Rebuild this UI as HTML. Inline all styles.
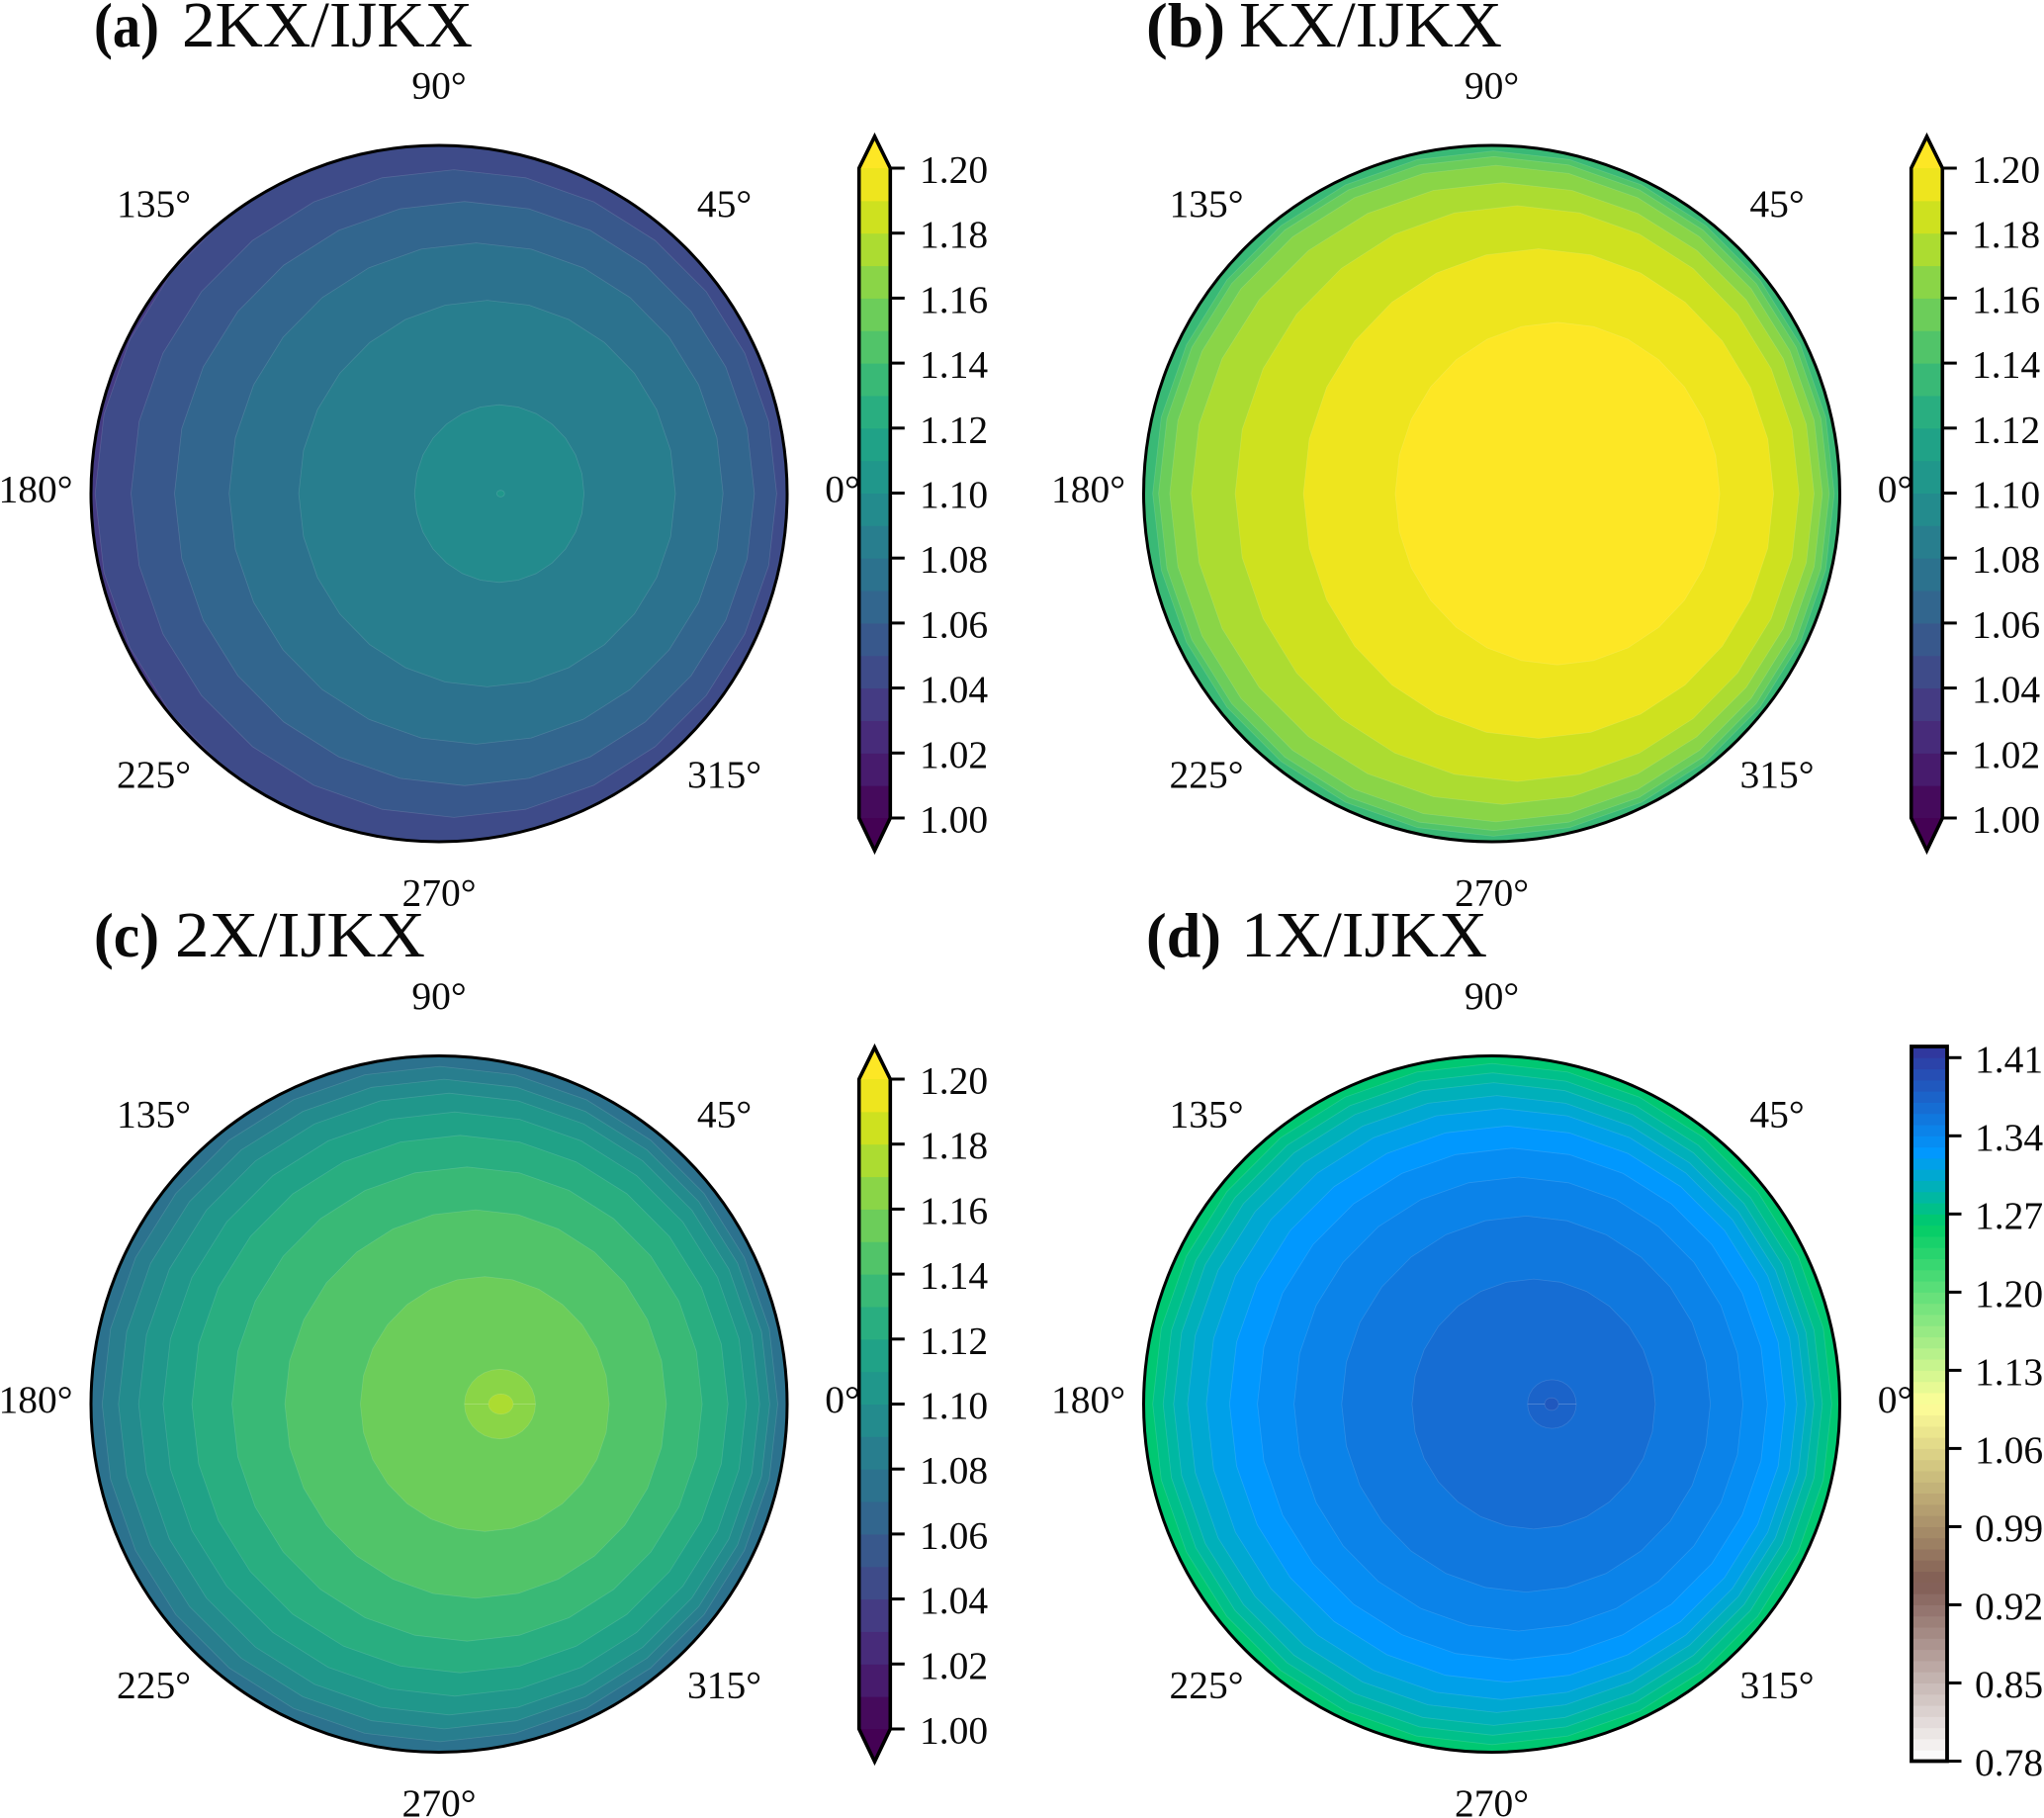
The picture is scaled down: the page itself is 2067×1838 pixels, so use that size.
<!DOCTYPE html>
<html lang="en">
<head>
<meta charset="utf-8">
<title>Polar contour panels</title>
<style>
  html, body { margin: 0; padding: 0; background: #fff; }
  svg { display: block; }
  text { font-family: "Liberation Serif", serif; fill: #0a0a0a; }
  .title-main { font-size: 66px; }
  .title-tag { font-size: 63px; font-weight: bold; }
  .tick-text { font-size: 39.5px; }
</style>
</head>
<body>
<svg id="chart" width="2067" height="1838" viewBox="0 0 2067 1838" xmlns="http://www.w3.org/2000/svg">
  <defs id="clips"></defs>
  <g id="panel-a">
    <text class="title-tag" x="95" y="47" textLength="66" lengthAdjust="spacingAndGlyphs">(a)</text>
    <text class="title-main" x="184" y="47" textLength="294" lengthAdjust="spacingAndGlyphs">2KX/IJKX</text>
  </g>
  <g id="panel-b">
    <text class="title-tag" x="1159" y="47" textLength="80" lengthAdjust="spacingAndGlyphs">(b)</text>
    <text class="title-main" x="1253" y="47" textLength="266" lengthAdjust="spacingAndGlyphs">KX/IJKX</text>
  </g>
  <g id="panel-c">
    <text class="title-tag" x="95" y="967" textLength="66" lengthAdjust="spacingAndGlyphs">(c)</text>
    <text class="title-main" x="177" y="967" textLength="253" lengthAdjust="spacingAndGlyphs">2X/IJKX</text>
  </g>
  <g id="panel-d">
    <text class="title-tag" x="1159" y="967" textLength="76" lengthAdjust="spacingAndGlyphs">(d)</text>
    <text class="title-main" x="1255" y="967" textLength="249" lengthAdjust="spacingAndGlyphs">1X/IJKX</text>
  </g>
</svg>
<script>
// ---- Axis tick labels ----
const angleTicks = [0, 45, 90, 135, 180, 225, 270, 315];
const sharedBarTicks = [1.00, 1.02, 1.04, 1.06, 1.08, 1.10, 1.12, 1.14, 1.16, 1.18, 1.20];
const panelDBarTicks = [0.78, 0.85, 0.92, 0.99, 1.06, 1.13, 1.20, 1.27, 1.34, 1.41];

// ---- Contour data: band lower level, then contour extent as a fraction of the
//      polar radius along 0deg (right), 180deg (left) and half-height (vert) ----
const panelABackground = 1.03;
const panelALevels = [1.04, 1.05, 1.06, 1.07, 1.08, 1.09, 1.10];
const panelARight  = [1.03, 0.970, 0.906, 0.816, 0.679, 0.4165, 0.188];
const panelALeft   = [0.988, 0.885, 0.760, 0.603, 0.403, 0.0704, -0.166];
const panelAVert   = [1.02, 0.930, 0.839, 0.720, 0.555, 0.255, 0.0094];

const panelBBackground = 1.13;
const panelBLevels = [1.14, 1.15, 1.16, 1.17, 1.18, 1.19, 1.20];
const panelBRight  = [0.984, 0.970, 0.950, 0.926, 0.883, 0.810, 0.655];
const panelBLeft   = [0.974, 0.957, 0.925, 0.863, 0.737, 0.541, 0.277];
const panelBVert   = [0.984, 0.968, 0.943, 0.893, 0.827, 0.703, 0.492];

const panelCBackground = 1.07;
const panelCLevels = [1.08, 1.09, 1.10, 1.11, 1.12, 1.13, 1.14, 1.15, 1.16, 1.17];
const panelCRight  = [0.973, 0.950, 0.921, 0.883, 0.830, 0.756, 0.653, 0.489, 0.277, 0.213];
const panelCLeft   = [0.968, 0.921, 0.863, 0.793, 0.710, 0.595, 0.443, 0.226, -0.073, -0.142];
const panelCVert   = [0.970, 0.933, 0.893, 0.839, 0.772, 0.681, 0.558, 0.366, 0.100, 0.029];

const panelDBackground = 1.26;
const panelDLevels = [1.27, 1.28, 1.29, 1.30, 1.31, 1.32, 1.33, 1.34, 1.35, 1.36, 1.37, 1.38];
const panelDRight  = [0.977, 0.950, 0.926, 0.903, 0.877, 0.843, 0.792, 0.722, 0.628, 0.470, 0.243, 0.192];
const panelDLeft   = [0.974, 0.944, 0.914, 0.874, 0.820, 0.753, 0.673, 0.568, 0.431, 0.229, -0.103, -0.152];
const panelDVert   = [0.978, 0.951, 0.923, 0.886, 0.849, 0.799, 0.735, 0.652, 0.540, 0.359, 0.070, 0.018];

// ---- Colormap anchors (evenly spaced for viridis; terrain has explicit positions) ----
const viridisAnchors = ["#440154","#471365","#482475","#46337f","#414487","#3b528b","#355f8d","#2e6d8e","#2a788e","#25848e","#21918c","#1e9c89","#22a884","#2fb47c","#44bf70","#5ec962","#7ad151","#9bd93c","#bddf26","#dfe318","#fde725"];
const terrainPositions = [0, 0.15, 0.25, 0.5, 0.75, 1];
const terrainAnchors = ["#333399","#0099ff","#00cc66","#ffff99","#805c54","#ffffff"];

function hexToRgb(h) {
  return [parseInt(h.slice(1,3),16), parseInt(h.slice(3,5),16), parseInt(h.slice(5,7),16)];
}
function mixHex(a, b, t) {
  const p = hexToRgb(a), q = hexToRgb(b);
  return "rgb(" + p.map(function (v, i) { return Math.round(v + (q[i] - v) * t); }).join(",") + ")";
}
function viridis(f) {
  f = Math.max(0, Math.min(1, f));
  const s = f * (viridisAnchors.length - 1);
  const i = Math.min(Math.floor(s), viridisAnchors.length - 2);
  return mixHex(viridisAnchors[i], viridisAnchors[i + 1], s - i);
}
function terrainReversed(f) {
  const g = 1 - Math.max(0, Math.min(1, f));
  let i = 0;
  while (i < terrainPositions.length - 2 && g > terrainPositions[i + 1]) i++;
  const t = (g - terrainPositions[i]) / (terrainPositions[i + 1] - terrainPositions[i]);
  return mixHex(terrainAnchors[i], terrainAnchors[i + 1], t);
}

const SVGNS = "http://www.w3.org/2000/svg";
function make(tag, parent, attrs) {
  const el = document.createElementNS(SVGNS, tag);
  for (const k in attrs) el.setAttribute(k, attrs[k]);
  parent.appendChild(el);
  return el;
}

const LEVEL_STEP = 0.01;
const POLAR_RADIUS = 352;
const LABEL_RADIUS = 408;

function drawPolar(panelId, cx, cy, background, levels, right, left, vert, colorOf, seamFrom) {
  const root = document.getElementById(panelId);
  const axisX = function (u) { return cx + u * POLAR_RADIUS; };
  const axisY = function (v) { return cy - v * POLAR_RADIUS; };
  const clipId = panelId + "-clip";
  const clip = make("clipPath", document.getElementById("clips"), { id: clipId });
  make("circle", clip, { cx: cx, cy: cy, r: POLAR_RADIUS });

  const field = make("g", root, { "clip-path": "url(#" + clipId + ")" });
  
  

  const base = make("circle", field, { cx: cx, cy: cy, r: POLAR_RADIUS, fill: colorOf(background) });
  
  

  levels.forEach(function (level, i) {
    const offset = (right[i] - left[i]) / 2;
    const rx = (right[i] + left[i]) / 2;
    const pts = [];
    for (let k = 0; k < 28; k++) {
      const t = k * Math.PI / 14;
      pts.push(axisX(offset + rx * Math.cos(t)).toFixed(1) + "," + axisY(vert[i] * Math.sin(t)).toFixed(1));
    }
    const band = make("polygon", field, {
      points: pts.join(" "), fill: colorOf(level),
      stroke: "#ffffff", "stroke-opacity": 0.13, "stroke-width": 0.8
    });
    
    
    if (seamFrom >= 0 && i === seamFrom) {
      const seam = make("line", field, {
        x1: axisX(-left[i]), x2: axisX(right[i]), y1: axisY(0), y2: axisY(0),
        stroke: "#ffffff", "stroke-opacity": 0.2, "stroke-width": 1
      });
      
      
    }
  });

  const spine = make("circle", root, { cx: cx, cy: cy, r: POLAR_RADIUS, fill: "none", stroke: "#000", "stroke-width": 3 });
  
  

  angleTicks.forEach(function (deg) {
    const a = deg * Math.PI / 180;
    const label = make("text", root, {
      class: "tick-text", "text-anchor": "middle",
      x: (cx + LABEL_RADIUS * Math.cos(a)).toFixed(1),
      y: (cy - LABEL_RADIUS * Math.sin(a) + 8.5).toFixed(1)
    });
    label.textContent = deg + "\u00B0";
    
    
  });
}

function drawColorbar(panelId, x0, x1, yLow, yHigh, vLow, vHigh, ticks, vMin, vMax, colorOf, extended, strokeW, labelX) {
  const root = document.getElementById(panelId);
  const barY = function (v) { return yLow + (v - vLow) / (vHigh - vLow) * (yHigh - yLow); };
  const bar = make("g", root, {});
  
  
  const n = Math.round((vMax - vMin) / LEVEL_STEP);
  const xm = (x0 + x1) / 2;
  for (let i = 0; i < n; i++) {
    const lo = vMin + i * LEVEL_STEP;
    const seg = make("rect", bar, {
      x: x0, width: x1 - x0,
      y: barY(lo + LEVEL_STEP).toFixed(2),
      height: (barY(lo) - barY(lo + LEVEL_STEP) + 0.5).toFixed(2),
      fill: colorOf(lo)
    });
    
    
  }
  let outline;
  if (extended) {
    const top = barY(vMax), bot = barY(vMin);
    const upper = make("polygon", bar, { points: x0 + "," + top + " " + xm + "," + (top - 32) + " " + x1 + "," + top, fill: colorOf(vMax) });
    
    
    const lower = make("polygon", bar, { points: x0 + "," + bot + " " + xm + "," + (bot + 33) + " " + x1 + "," + bot, fill: colorOf(vMin - LEVEL_STEP) });
    
    
    outline = [x0 + "," + top, xm + "," + (top - 32), x1 + "," + top, x1 + "," + bot, xm + "," + (bot + 33), x0 + "," + bot];
  } else {
    const top = barY(vMax), bot = barY(vMin);
    outline = [x0 + "," + top, x1 + "," + top, x1 + "," + bot, x0 + "," + bot];
  }
  const frame = make("polygon", bar, { points: outline.join(" "), fill: "none", stroke: "#000", "stroke-width": strokeW, "stroke-linejoin": "miter", "stroke-miterlimit": 10 });
  
  

  ticks.forEach(function (v) {
    const y = barY(v);
    const mark = make("line", bar, { x1: x1, x2: x1 + 14.5, y1: y, y2: y, stroke: "#000", "stroke-width": 3 });
    
    
    const label = make("text", bar, { class: "tick-text", x: labelX, y: (y + 14.5).toFixed(1) });
    label.textContent = v.toFixed(2);
    
    
  });
}

const SHARED_MIN = 1.00, SHARED_MAX = 1.20;
const TERRAIN_MIN = 0.78, TERRAIN_MAX = 1.42;
const sharedColor = function (lo) {
  return viridis((lo + LEVEL_STEP / 2 - SHARED_MIN) / (SHARED_MAX - SHARED_MIN));
};
const terrainColor = function (lo) {
  return terrainReversed((lo + LEVEL_STEP / 2 - TERRAIN_MIN) / (TERRAIN_MAX - TERRAIN_MIN));
};

drawPolar("panel-a", 444, 499, panelABackground, panelALevels, panelARight, panelALeft, panelAVert, sharedColor, -1);
drawPolar("panel-b", 1508.5, 499, panelBBackground, panelBLevels, panelBRight, panelBLeft, panelBVert, sharedColor, -1);
drawPolar("panel-c", 444, 1419.5, panelCBackground, panelCLevels, panelCRight, panelCLeft, panelCVert, sharedColor, 8);
drawPolar("panel-d", 1508.5, 1419.5, panelDBackground, panelDLevels, panelDRight, panelDLeft, panelDVert, terrainColor, 10);

drawColorbar("panel-a", 868.7, 900.3, 827, 170, 1.00, 1.20, sharedBarTicks, SHARED_MIN, SHARED_MAX, sharedColor, true, 3.6, 930);
drawColorbar("panel-b", 1932.7, 1964.3, 827, 170, 1.00, 1.20, sharedBarTicks, SHARED_MIN, SHARED_MAX, sharedColor, true, 3.6, 1994);
drawColorbar("panel-c", 868.7, 900.3, 1748, 1091, 1.00, 1.20, sharedBarTicks, SHARED_MIN, SHARED_MAX, sharedColor, true, 3.6, 930);
drawColorbar("panel-d", 1933, 1969, 1780.5, 1069.3, 0.78, 1.41, panelDBarTicks, TERRAIN_MIN, TERRAIN_MAX, terrainColor, false, 3.8, 1997);
</script>
</body>
</html>
